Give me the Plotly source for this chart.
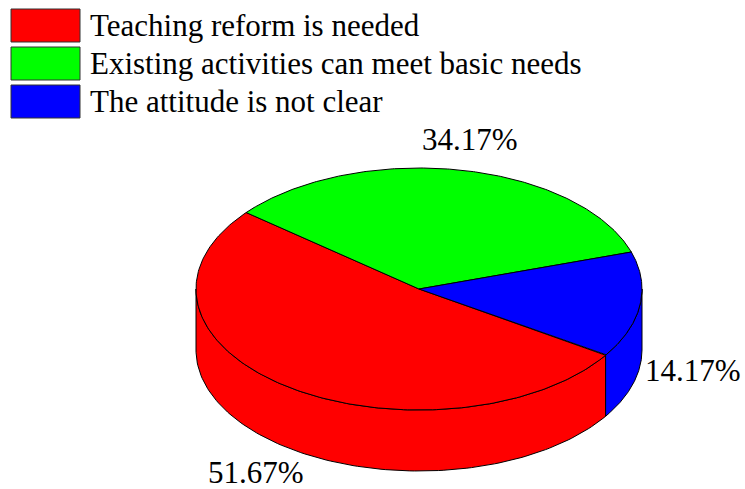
import numpy as np
import plotly.graph_objects as go

# ---- data ----
categories = ["Teaching reform is needed",
              "Existing activities can meet basic needs",
              "The attitude is not clear"]
values = [51.67, 34.17, 14.17]
value_labels = ["51.67%", "34.17%", "14.17%"]
colors = ["#FF0000", "#00FF00", "#0000FF"]

# ---- layout constants (pixel space) ----
W, H = 745, 489
CX, CY = 419, 289          # centre of top ellipse
RX, RY = 223, 121          # radii of top ellipse
DEPTH = 61                 # thickness of the pie
START = -33.2              # angle (deg, ccw from +x) where first slice starts, going clockwise
LRX, LRY = 276, 152        # label ellipse
FONT = "Liberation Serif, Times New Roman, serif"
FSIZE = 31

total = sum(values)
spans = [v / total * 360.0 for v in values]

def pt(t_deg, dy=0.0):
    t = np.radians(t_deg)
    return CX + RX * np.cos(t), CY - RY * np.sin(t) + dy

fig = go.Figure()

# slice angle ranges (clockwise => decreasing angles); store as (lo, hi)
ranges = []
a = START
for s in spans:
    ranges.append((a - s, a))
    a -= s

# side walls (front half: angles in [180, 360] mod 360)
for (lo, hi), col in zip(ranges, colors):
    for k in range(-2, 3):
        f_lo, f_hi = 180 + 360 * k, 360 + 360 * k
        a0, a1 = max(lo, f_lo), min(hi, f_hi)
        if a1 - a0 <= 1e-6:
            continue
        ts = np.linspace(a0, a1, 120)
        xt, yt = pt(ts)
        xb, yb = pt(ts[::-1], DEPTH)
        xs = np.concatenate([xt, xb, xt[:1]])
        ys = np.concatenate([yt, yb, yt[:1]])
        fig.add_trace(go.Scatter(x=xs, y=ys, mode="lines", fill="toself",
                                 fillcolor=col, line=dict(color="black", width=1),
                                 hoverinfo="skip", showlegend=False))

# top surface
for (lo, hi), col in zip(ranges, colors):
    ts = np.linspace(lo, hi, 200)
    xa, ya = pt(ts)
    xs = np.concatenate([[CX], xa, [CX]])
    ys = np.concatenate([[CY], ya, [CY]])
    fig.add_trace(go.Scatter(x=xs, y=ys, mode="lines", fill="toself",
                             fillcolor=col, line=dict(color="black", width=1),
                             hoverinfo="skip", showlegend=False))

# value labels
annotations = []
for (lo, hi), lab in zip(ranges, value_labels):
    m = np.radians((lo + hi) / 2)
    lx = CX + LRX * np.cos(m)
    ly = CY - LRY * np.sin(m) + (DEPTH if np.sin(m) < 0 else 0)
    annotations.append(dict(x=lx, y=ly, xref="x", yref="y", text=lab,
                            showarrow=False, xanchor="center", yanchor="middle",
                            font=dict(family=FONT, size=FSIZE, color="black")))

# legend (drawn manually)
shapes = []
LX0, LX1, LY0, LH, LSTEP = 11, 80, 9, 33, 38
for i, (cat, col) in enumerate(zip(categories, colors)):
    y0 = LY0 + i * LSTEP
    shapes.append(dict(type="rect", xref="x", yref="y", x0=LX0, x1=LX1,
                       y0=y0, y1=y0 + LH, fillcolor=col,
                       line=dict(color="#333333", width=1)))
    annotations.append(dict(x=88, y=y0 + LH / 2, xref="x", yref="y", text=cat,
                            showarrow=False, xanchor="left", yanchor="middle",
                            font=dict(family=FONT, size=FSIZE, color="black")))

fig.update_layout(
    width=W, height=H,
    margin=dict(l=0, r=0, t=0, b=0),
    paper_bgcolor="white", plot_bgcolor="white",
    xaxis=dict(range=[0, W], visible=False, fixedrange=True),
    yaxis=dict(range=[H, 0], visible=False, fixedrange=True),
    shapes=shapes, annotations=annotations,
    showlegend=False,
)

fig.write_html("out.html",
               config={"displayModeBar": False},
               post_script="document.body.style.margin='0';document.body.style.overflow='hidden';")
